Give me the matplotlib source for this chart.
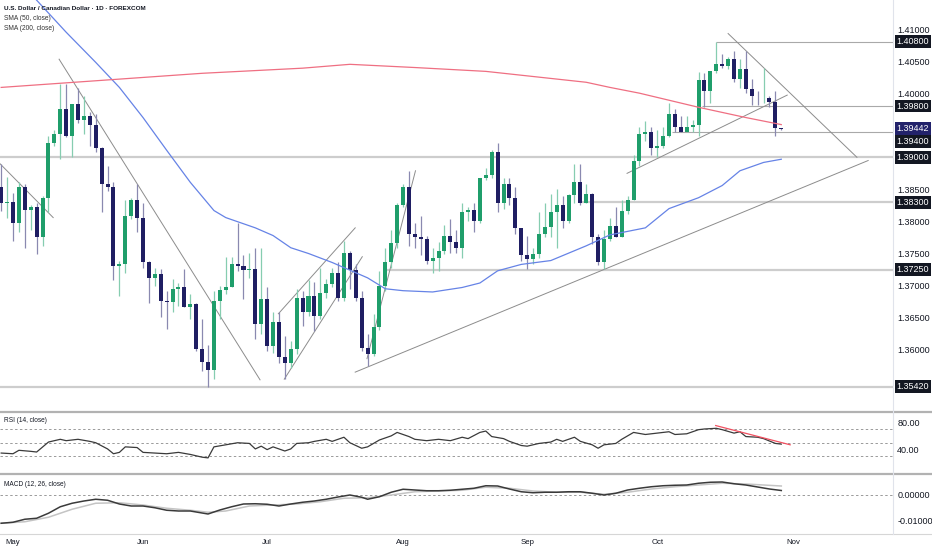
import matplotlib
matplotlib.use("Agg")
import matplotlib.pyplot as plt
import matplotlib.transforms as mtransforms
from matplotlib.lines import Line2D
from matplotlib.ticker import FormatStrFormatter
import pandas as pd

plt.rcParams["font.family"] = ["Liberation Sans", "DejaVu Sans"]

# daily candles, 29 Apr 2025 -> 29 Oct 2025
opens = [1.3854, 1.3828, 1.3831, 1.3797, 1.3854, 1.3818, 1.3823, 1.3776, 1.3837, 1.3923,
         1.3937, 1.3975, 1.3934, 1.3983, 1.3958, 1.3965, 1.3950, 1.3915, 1.3859, 1.3853,
         1.3731, 1.3734, 1.3809, 1.3834, 1.3806, 1.3737, 1.3712, 1.3718, 1.3676, 1.3675,
         1.3695, 1.3698, 1.3667, 1.3672, 1.3601, 1.3581, 1.3568, 1.3676, 1.3693, 1.3698,
         1.3733, 1.3731, 1.3725, 1.3726, 1.3640, 1.3679, 1.3606, 1.3643, 1.3589, 1.3579,
         1.3601, 1.3681, 1.3658, 1.3683, 1.3653, 1.3689, 1.3703, 1.3720, 1.3681, 1.3751,
         1.3725, 1.3681, 1.3603, 1.3593, 1.3636, 1.3700, 1.3737, 1.3767, 1.3826, 1.3854,
         1.3781, 1.3776, 1.3772, 1.3739, 1.3743, 1.3754, 1.3778, 1.3768, 1.3758, 1.3815,
         1.3818, 1.3801, 1.3867, 1.3872, 1.3909, 1.3828, 1.3858, 1.3837, 1.3789, 1.3747,
         1.3742, 1.3750, 1.3781, 1.3792, 1.3815, 1.3826, 1.3801, 1.3842, 1.3862, 1.3829,
         1.3843, 1.3775, 1.3736, 1.3773, 1.3793, 1.3776, 1.3817, 1.3834, 1.3895, 1.3937,
         1.3940, 1.3915, 1.3918, 1.3933, 1.3967, 1.3948, 1.3940, 1.3947, 1.3950, 1.4020,
         1.4004, 1.4034, 1.4045, 1.4042, 1.4054, 1.4022, 1.4037, 1.4006, 1.3993, 1.3992,
         1.3993, 1.3987, 1.3945]
highs = [1.3890, 1.3870, 1.3845, 1.3861, 1.3859, 1.3826, 1.3829, 1.3840, 1.3934, 1.3942,
         1.4014, 1.4015, 1.3983, 1.4008, 1.3995, 1.3970, 1.3968, 1.3916, 1.3887, 1.3861,
         1.3739, 1.3833, 1.3837, 1.3859, 1.3828, 1.3738, 1.3728, 1.3726, 1.3692, 1.3711,
         1.3704, 1.3726, 1.3687, 1.3673, 1.3648, 1.3608, 1.3692, 1.3700, 1.3745, 1.3745,
         1.3797, 1.3747, 1.3751, 1.3758, 1.3758, 1.3697, 1.3658, 1.3658, 1.3622, 1.3614,
         1.3695, 1.3692, 1.3708, 1.3706, 1.3728, 1.3711, 1.3728, 1.3736, 1.3770, 1.3754,
         1.3734, 1.3692, 1.3625, 1.3656, 1.3723, 1.3758, 1.3786, 1.3829, 1.3859, 1.3878,
         1.3798, 1.3809, 1.3778, 1.3758, 1.3768, 1.3794, 1.3804, 1.3786, 1.3829, 1.3822,
         1.3829, 1.3868, 1.3883, 1.3911, 1.3923, 1.3867, 1.3867, 1.3853, 1.3790, 1.3778,
         1.3759, 1.3814, 1.3828, 1.3843, 1.3851, 1.3840, 1.3843, 1.3890, 1.3890, 1.3859,
         1.3845, 1.3781, 1.3786, 1.3806, 1.3823, 1.3833, 1.3840, 1.3903, 1.3948, 1.3956,
         1.3947, 1.3942, 1.3947, 1.3984, 1.3975, 1.3965, 1.3965, 1.3958, 1.4033, 1.4031,
         1.4034, 1.4080, 1.4061, 1.4056, 1.4065, 1.4053, 1.4065, 1.4022, 1.4004, 1.4039,
         1.3995, 1.4004, 1.3946]
lows = [1.3817, 1.3806, 1.3770, 1.3783, 1.3759, 1.3786, 1.3750, 1.3762, 1.3814, 1.3918,
        1.3898, 1.3931, 1.3901, 1.3954, 1.3936, 1.3917, 1.3909, 1.3814, 1.3847, 1.3709,
        1.3684, 1.3720, 1.3804, 1.3784, 1.3728, 1.3673, 1.3700, 1.3651, 1.3633, 1.3658,
        1.3668, 1.3667, 1.3648, 1.3598, 1.3567, 1.3542, 1.3554, 1.3648, 1.3687, 1.3697,
        1.3723, 1.3679, 1.3712, 1.3617, 1.3625, 1.3598, 1.3595, 1.3579, 1.3554, 1.3572,
        1.3593, 1.3637, 1.3653, 1.3629, 1.3648, 1.3681, 1.3697, 1.3676, 1.3676, 1.3695,
        1.3676, 1.3598, 1.3575, 1.3590, 1.3630, 1.3692, 1.3728, 1.3759, 1.3822, 1.3762,
        1.3758, 1.3747, 1.3734, 1.3720, 1.3723, 1.3750, 1.3751, 1.3751, 1.3743, 1.3801,
        1.3783, 1.3798, 1.3864, 1.3868, 1.3814, 1.3820, 1.3825, 1.3781, 1.3739, 1.3726,
        1.3734, 1.3743, 1.3775, 1.3775, 1.3759, 1.3789, 1.3798, 1.3829, 1.3826, 1.3828,
        1.3765, 1.3732, 1.3726, 1.3770, 1.3775, 1.3775, 1.3812, 1.3833, 1.3887, 1.3926,
        1.3903, 1.3900, 1.3914, 1.3931, 1.3939, 1.3939, 1.3939, 1.3940, 1.3934, 1.3978,
        1.3984, 1.4031, 1.4040, 1.4037, 1.4017, 1.4008, 1.4001, 1.3981, 1.3981, 1.3984,
        1.3978, 1.3933, 1.3943]
closes = [1.3828, 1.3831, 1.3797, 1.3854, 1.3818, 1.3823, 1.3776, 1.3837, 1.3923, 1.3937,
          1.3975, 1.3934, 1.3983, 1.3958, 1.3965, 1.3950, 1.3915, 1.3859, 1.3853, 1.3731,
          1.3734, 1.3809, 1.3834, 1.3806, 1.3737, 1.3712, 1.3718, 1.3676, 1.3675, 1.3695,
          1.3698, 1.3667, 1.3672, 1.3601, 1.3581, 1.3568, 1.3676, 1.3693, 1.3698, 1.3733,
          1.3731, 1.3725, 1.3726, 1.3640, 1.3679, 1.3606, 1.3643, 1.3589, 1.3579, 1.3601,
          1.3681, 1.3658, 1.3683, 1.3653, 1.3689, 1.3703, 1.3720, 1.3681, 1.3751, 1.3725,
          1.3681, 1.3603, 1.3593, 1.3636, 1.3700, 1.3737, 1.3767, 1.3826, 1.3854, 1.3781,
          1.3776, 1.3772, 1.3739, 1.3743, 1.3754, 1.3778, 1.3768, 1.3758, 1.3815, 1.3818,
          1.3801, 1.3867, 1.3872, 1.3909, 1.3828, 1.3858, 1.3837, 1.3789, 1.3747, 1.3742,
          1.3750, 1.3781, 1.3792, 1.3815, 1.3826, 1.3801, 1.3842, 1.3862, 1.3829, 1.3843,
          1.3775, 1.3736, 1.3773, 1.3793, 1.3776, 1.3817, 1.3834, 1.3895, 1.3937, 1.3940,
          1.3915, 1.3918, 1.3933, 1.3967, 1.3948, 1.3940, 1.3947, 1.3950, 1.4020, 1.4004,
          1.4034, 1.4045, 1.4042, 1.4054, 1.4022, 1.4037, 1.4006, 1.3995, 1.3992, 1.3993,
          1.3987, 1.3945, 1.3944]

# moving averages (bar index, value)
sma50_x = [0, 6, 11, 16, 20, 24, 28, 32, 36, 38, 43, 46, 49, 52, 56, 62, 65, 68, 73, 78,
           81, 84, 88, 93, 99, 103, 109, 113, 118, 122, 125, 129, 132]
sma50_y = [1.4211, 1.4145, 1.4095, 1.4048, 1.4009, 1.3962, 1.3911, 1.3861, 1.3817, 1.3806,
           1.3790, 1.3778, 1.3759, 1.3750, 1.3736, 1.3712, 1.3695, 1.3692, 1.3690, 1.3697,
           1.3704, 1.3723, 1.3733, 1.3739, 1.3762, 1.3779, 1.3790, 1.3820, 1.3837, 1.3856,
           1.3879, 1.3892, 1.3897]
sma200_x = [0, 17, 34, 51, 59, 70, 82, 90, 99, 103, 108, 118, 126, 132]
sma200_y = [1.4009, 1.4020, 1.4031, 1.4039, 1.4045, 1.4040, 1.4034, 1.4026, 1.4017, 1.4009,
            1.4000, 1.3978, 1.3962, 1.3951]

# drawn levels: price, first bar, heavy?
level_prices = [1.4080, 1.3980, 1.3940, 1.3900, 1.3830, 1.3725, 1.3542]
level_starts = [121, 118.6, 113.5, -1, 98, 65.3, -1]
level_heavy = [False, False, False, True, True, True, True]

# trendlines: (x0, y0, x1, y1)
trend_lines = [(-0.2, 1.3890, 8.8, 1.3806), (9.8, 1.4053, 43.8, 1.3553),
               (47.9, 1.3554, 61.1, 1.3745), (46.9, 1.3656, 59.9, 1.3790),
               (61.9, 1.3586, 70.1, 1.3879), (59.9, 1.3565, 146.7, 1.3895),
               (105.9, 1.3875, 133.0, 1.3997), (123.0, 1.4093, 144.8, 1.3900)]

rsi_x = [0, 2, 3, 5, 6, 8, 10, 11, 13, 15, 16, 18, 19, 20, 21, 23, 24, 26, 28, 30, 32, 34,
         35, 36, 38, 40, 42, 43, 44, 45, 46, 48, 49, 50, 52, 53, 55, 56, 58, 59, 61, 62, 64,
         66, 67, 69, 70, 72, 74, 76, 78, 79, 81, 82, 83, 85, 86, 88, 89, 91, 93, 94, 95, 97,
         98, 100, 101, 102, 104, 105, 107, 109, 111, 113, 114, 116, 118, 119, 121, 122, 124,
         125, 126, 128, 129, 131, 132]
rsi_y = [35, 34, 39, 37.5, 36.5, 51, 55, 53, 55, 52, 50, 41, 34, 36, 44, 43, 36, 35, 34, 36,
         33, 29, 28, 44, 47, 50, 49, 41, 45, 40, 44, 38, 41, 49, 50, 52, 55, 52, 58, 50, 42,
         44, 54, 60, 65, 59, 55, 53, 55, 53, 58, 56, 65, 67, 59, 56, 52, 46, 45, 49, 51, 55,
         52, 58, 52, 47, 42, 47, 49, 55, 65, 62, 64, 66, 62, 63, 69, 70, 71, 69, 64, 66, 59,
         58, 56, 49, 48]
rsi_trend = (120.9, 75, 133.5, 47)

macd_x = [0, 2, 4, 6, 8, 10, 12, 14, 16, 18, 20, 22, 24, 26, 28, 30, 32, 34, 35, 37, 39, 41,
          43, 45, 47, 49, 51, 53, 55, 57, 59, 61, 62, 64, 66, 68, 70, 72, 74, 76, 78, 80, 82,
          84, 86, 88, 90, 92, 94, 96, 98, 100, 102, 104, 106, 108, 110, 112, 114, 116, 118,
          120, 122, 124, 126, 128, 130, 132]
macd_y = [-0.0113, -0.0109, -0.0097, -0.0093, -0.0073, -0.0047, -0.0033, -0.0024, -0.0017,
          -0.0021, -0.0036, -0.0044, -0.0044, -0.0051, -0.0061, -0.0064, -0.0064, -0.0072,
          -0.0076, -0.0060, -0.0047, -0.0036, -0.0035, -0.0037, -0.0044, -0.0036, -0.0029,
          -0.0024, -0.0017, -0.0008, 0.0000, -0.0009, -0.0017, -0.0007, 0.0011, 0.0023,
          0.0020, 0.0017, 0.0017, 0.0019, 0.0023, 0.0027, 0.0037, 0.0036, 0.0024, 0.0013,
          0.0009, 0.0011, 0.0011, 0.0013, 0.0013, 0.0007, 0.0000, 0.0007, 0.0020, 0.0027,
          0.0033, 0.0037, 0.0039, 0.0040, 0.0047, 0.0051, 0.0052, 0.0045, 0.0040, 0.0032,
          0.0024, 0.0018]
signal_x = [0, 4, 8, 12, 16, 20, 24, 28, 32, 35, 38, 42, 46, 50, 54, 58, 62, 66, 70, 74, 78,
            82, 86, 90, 94, 98, 102, 106, 110, 114, 118, 122, 126, 132]
signal_y = [-0.0113, -0.0107, -0.0089, -0.0057, -0.0033, -0.0031, -0.0040, -0.0053, -0.0061,
            -0.0069, -0.0064, -0.0044, -0.0040, -0.0036, -0.0027, -0.0013, -0.0011, 0.0000,
            0.0013, 0.0016, 0.0019, 0.0031, 0.0027, 0.0016, 0.0011, 0.0011, 0.0003, 0.0011,
            0.0024, 0.0033, 0.0040, 0.0047, 0.0044, 0.0036]

# scale ticks (1.355 and 1.395 sit under the marker boxes)
price_ticks = [1.360, 1.365, 1.370, 1.375, 1.380, 1.385, 1.390, 1.400, 1.405, 1.410]
box_labels = [1.4080, 1.3980, 1.3900, 1.3830, 1.3725, 1.3542]
last_price = 1.39442

W, H = 932, 550
GREEN, NAVY = "#1f9e6b", "#1f1e63"
TXT = "#131722"

dates = pd.bdate_range("2025-04-29", periods=150)
month_idx = [i for i in range(1, len(dates)) if dates[i].month != dates[i - 1].month]
month_lbl = [dates[i].strftime("%b") for i in month_idx]

fig = plt.figure(figsize=(W / 100, H / 100), dpi=100)
right = 893 / W


def pane(top_px, bot_px):
    return fig.add_axes([0, 1 - bot_px / H, right, (bot_px - top_px) / H])


ax = pane(0, 411)
ax_rsi = pane(412, 473)
ax_macd = pane(474, 533)

for a in (ax, ax_rsi, ax_macd):
    a.set_xlim(-0.2, 150.9)
    for s in a.spines.values():
        s.set_visible(False)
    a.yaxis.tick_right()
    a.tick_params(axis="y", length=0, pad=3, labelsize=6.5, labelcolor=TXT)
    a.tick_params(axis="x", length=0, labelsize=5.6, labelcolor=TXT)
    a.set_xticks([])

# ---- main price pane ----
ax.set_ylim(1.35044, 1.41453)
ax.set_yticks(price_ticks)
ax.yaxis.set_major_formatter(FormatStrFormatter("%.5f"))

for p, x0, heavy in zip(level_prices, level_starts, level_heavy):
    ax.plot([x0, 151], [p, p], color="#cdcdcd" if heavy else "#a9a9a9",
            lw=1.6 if heavy else 0.8, zorder=1, solid_capstyle="butt")

for x0, y0, x1, y1 in trend_lines:
    ax.plot([x0, x1], [y0, y1], color="#8c8c8c", lw=0.7, zorder=1)

for i, (o, h, l, c) in enumerate(zip(opens, highs, lows, closes)):
    up = c >= o
    ax.vlines(i, l, h, color="#86cdb0" if up else "#8a89b0", lw=0.9, zorder=2)
    ax.bar(i, max(abs(c - o), 0.00012), bottom=min(o, c), width=0.68,
           color=GREEN if up else NAVY, zorder=3, linewidth=0)

ax.plot(sma50_x, sma50_y, color="#6683e6", lw=0.9, zorder=4)
ax.plot(sma200_x, sma200_y, color="#ef6f82", lw=0.9, zorder=4)

yt = mtransforms.blended_transform_factory(ax.transAxes, ax.transData)
bx = 1 + 3.5 / 893
for p in box_labels:
    ax.text(bx, p, f"{p:.5f}", transform=yt, ha="left", va="center", fontsize=6.5,
            color="white", zorder=6, clip_on=False,
            bbox=dict(boxstyle="square,pad=0.22", fc=TXT, ec="none"))
ax.text(bx, last_price, f"{last_price:.5f}", transform=yt, ha="left", va="center",
        fontsize=6.5, color="white", zorder=7, clip_on=False,
        bbox=dict(boxstyle="square,pad=0.22", fc="#22226b", ec="none"))
yt_down = mtransforms.offset_copy(yt, fig=fig, y=-10, units="dots")
ax.text(bx, 1.3940, "1.39400", transform=yt_down, ha="left", va="center", fontsize=6.5,
        color="white", zorder=6, clip_on=False,
        bbox=dict(boxstyle="square,pad=0.22", fc=TXT, ec="none"))

fig.text(4 / W, 1 - 9 / H, "U.S. Dollar / Canadian Dollar · 1D · FOREXCOM",
         fontsize=4.6, fontweight="bold", color=TXT, va="center")
fig.text(4 / W, 1 - 18.5 / H, "SMA (50, close)", fontsize=4.8, color="#333", va="center")
fig.text(4 / W, 1 - 28 / H, "SMA (200, close)", fontsize=4.8, color="#333", va="center")

# ---- RSI pane ----
ax_rsi.set_ylim(6, 94.7)
ax_rsi.set_yticks([40, 80])
ax_rsi.yaxis.set_major_formatter(FormatStrFormatter("%.2f"))
for lvl in (70, 50, 30):
    ax_rsi.axhline(lvl, color="#9a9a9a", lw=0.7, ls=(0, (2.5, 2.5)), zorder=1)
ax_rsi.plot(rsi_x, rsi_y, color="#3a3a3a", lw=0.9, zorder=3)
ax_rsi.plot([rsi_trend[0], rsi_trend[2]], [rsi_trend[1], rsi_trend[3]],
            color="#f05060", lw=0.9, zorder=4)
fig.text(4 / W, 1 - 421 / H, "RSI (14, close)", fontsize=4.7, color=TXT, va="center")

# ---- MACD pane ----
ax_macd.set_ylim(-0.0152, 0.0084)
ax_macd.set_yticks([-0.01, 0.0])
ax_macd.yaxis.set_major_formatter(FormatStrFormatter("%.5f"))
ax_macd.axhline(0, color="#9a9a9a", lw=0.7, ls=(0, (2.5, 2.5)), zorder=1)
ax_macd.plot(signal_x, signal_y, color="#c4c4c4", lw=1.1, zorder=2)
ax_macd.plot(macd_x, macd_y, color="#3a3a3a", lw=1.1, zorder=3)
ax_macd.set_xticks(month_idx)
ax_macd.set_xticklabels(month_lbl)
ax_macd.tick_params(axis="x", pad=4)
fig.text(4 / W, 1 - 484 / H, "MACD (12, 26, close)", fontsize=4.7, color=TXT, va="center")

# pane separators and price scale border
for ypx, lw, col in ((411.5, 1.6, "#b2b2b2"), (473.5, 1.6, "#b2b2b2"), (533.5, 0.8, "#d6d6d6")):
    fig.add_artist(Line2D([0, 1], [1 - ypx / H] * 2, color=col, lw=lw))
fig.add_artist(Line2D([right, right], [1 - 533.5 / H, 1], color="#e0e3eb", lw=0.8))

fig.savefig("out.png", dpi=100)
